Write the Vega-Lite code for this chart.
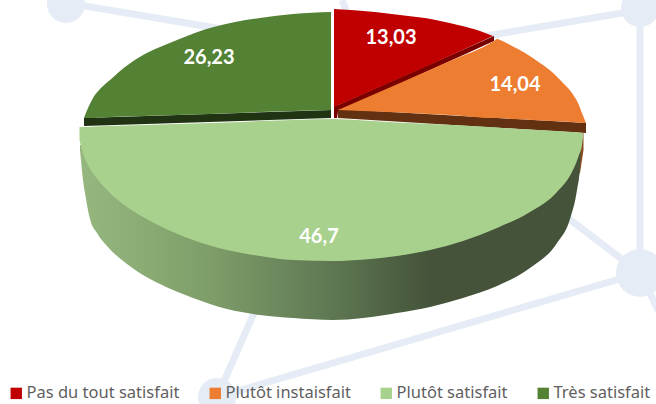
{
"$schema":"https://vega.github.io/schema/vega-lite/v6.json",
"width":656,"height":404,"padding":0,"autosize":{"type":"none"},"background":"white",
"config":{"view":{"stroke":null}},
"datasets":{
"links":[{"x":67,"y":3,"x2":240,"y2":32},{"x":640,"y":10,"x2":480,"y2":37},{"x":640,"y":10,"x2":640,"y2":273},{"x":640,"y":273,"x2":560,"y2":212},{"x":640,"y":273,"x2":217,"y2":397},{"x":217,"y":397,"x2":262,"y2":295},{"x":640,"y":273,"x2":662,"y2":318},{"x":342,"y":0,"x2":350,"y2":20}],
"nodes":[{"x":66,"y":4},{"x":640,"y":8},{"x":217,"y":397}],
"hub":[{"x":640,"y":273}],
"edge":[{"x":577,"y":133,"y2":175},{"x":580,"y":133,"y2":173},{"x":583.5,"y":133,"y2":150}],
"side":[{"x":80,"y":145,"y2":150},{"x":83,"y":145,"y2":180},{"x":85,"y":145,"y2":193},{"x":90,"y":145,"y2":219},{"x":97,"y":145,"y2":233},{"x":107,"y":145,"y2":246},{"x":127,"y":145,"y2":264},{"x":143,"y":145,"y2":275},{"x":160,"y":145,"y2":284},{"x":193,"y":145,"y2":298},{"x":227,"y":145,"y2":309},{"x":260,"y":145,"y2":315},{"x":293,"y":145,"y2":318},{"x":333,"y":145,"y2":320},{"x":363,"y":145,"y2":318},{"x":397,"y":145,"y2":313},{"x":430,"y":145,"y2":307},{"x":463,"y":145,"y2":298},{"x":497,"y":145,"y2":286},{"x":530,"y":145,"y2":268},{"x":557,"y":145,"y2":243},{"x":570,"y":145,"y2":219},{"x":577,"y":145,"y2":190},{"x":580,"y":145,"y2":167},{"x":581,"y":145,"y2":150}],
"bands":[
{"s":"r","x":334,"y":105,"y2":118},{"s":"r","x":337,"y":105,"y2":118},{"s":"r","x":338,"y":105,"y2":112},{"s":"r","x":494,"y":36,"y2":41},
{"s":"o","x":338,"y":109,"y2":118},{"s":"o","x":586,"y":123,"y2":133},
{"s":"d","x":84,"y":118,"y2":126},{"s":"d","x":331,"y":110,"y2":118}],
"faces":[
{"s":"Pas du tout satisfait","x":334,"y":9,"y2":107},{"s":"Pas du tout satisfait","x":375,"y":12,"y2":89},{"s":"Pas du tout satisfait","x":400,"y":15,"y2":78},{"s":"Pas du tout satisfait","x":425,"y":18,"y2":67},{"s":"Pas du tout satisfait","x":458,"y":25,"y2":52},{"s":"Pas du tout satisfait","x":480,"y":31,"y2":42},{"s":"Pas du tout satisfait","x":493,"y":36,"y2":36},
{"s":"Plutôt instaisfait","x":338,"y":110,"y2":110},{"s":"Plutôt instaisfait","x":400,"y":83,"y2":112.5},{"s":"Plutôt instaisfait","x":450,"y":61,"y2":115},{"s":"Plutôt instaisfait","x":494,"y":41,"y2":118},{"s":"Plutôt instaisfait","x":497,"y":39,"y2":118},{"s":"Plutôt instaisfait","x":500,"y":40,"y2":118},{"s":"Plutôt instaisfait","x":512,"y":46,"y2":119},{"s":"Plutôt instaisfait","x":525,"y":53,"y2":119.5},{"s":"Plutôt instaisfait","x":540,"y":63,"y2":120.5},{"s":"Plutôt instaisfait","x":552,"y":72,"y2":121},{"s":"Plutôt instaisfait","x":563,"y":83,"y2":121.5},{"s":"Plutôt instaisfait","x":572,"y":93,"y2":122},{"s":"Plutôt instaisfait","x":578,"y":103,"y2":122.4},{"s":"Plutôt instaisfait","x":582,"y":113,"y2":122.7},{"s":"Plutôt instaisfait","x":586,"y":123,"y2":123},
{"s":"Plutôt satisfait","x":79.5,"y":127,"y2":140},{"s":"Plutôt satisfait","x":83,"y":127,"y2":153},{"s":"Plutôt satisfait","x":87,"y":127,"y2":163},{"s":"Plutôt satisfait","x":95,"y":126.5,"y2":176},{"s":"Plutôt satisfait","x":107,"y":126,"y2":190},{"s":"Plutôt satisfait","x":127,"y":125.5,"y2":207},{"s":"Plutôt satisfait","x":143,"y":125,"y2":217},{"s":"Plutôt satisfait","x":160,"y":124.5,"y2":226},{"s":"Plutôt satisfait","x":193,"y":123.5,"y2":240},{"s":"Plutôt satisfait","x":227,"y":122.5,"y2":250},{"s":"Plutôt satisfait","x":260,"y":121,"y2":256},{"s":"Plutôt satisfait","x":293,"y":120,"y2":260},{"s":"Plutôt satisfait","x":333,"y":119,"y2":261},{"s":"Plutôt satisfait","x":365,"y":120.5,"y2":259.5},{"s":"Plutôt satisfait","x":397,"y":122.5,"y2":256},{"s":"Plutôt satisfait","x":430,"y":124,"y2":250},{"s":"Plutôt satisfait","x":463,"y":125.5,"y2":241},{"s":"Plutôt satisfait","x":497,"y":127.5,"y2":228},{"s":"Plutôt satisfait","x":530,"y":129.5,"y2":212},{"s":"Plutôt satisfait","x":557,"y":131,"y2":192},{"s":"Plutôt satisfait","x":573,"y":132,"y2":170},{"s":"Plutôt satisfait","x":579,"y":132.5,"y2":155},{"s":"Plutôt satisfait","x":582,"y":133,"y2":145},{"s":"Plutôt satisfait","x":583,"y":133,"y2":137},
{"s":"Très satisfait","x":84,"y":118,"y2":118},{"s":"Très satisfait","x":88,"y":108,"y2":118},{"s":"Très satisfait","x":93,"y":98,"y2":118},{"s":"Très satisfait","x":100,"y":89,"y2":117.5},{"s":"Très satisfait","x":110,"y":80,"y2":117},{"s":"Très satisfait","x":125,"y":67,"y2":116.5},{"s":"Très satisfait","x":143,"y":55,"y2":116},{"s":"Très satisfait","x":160,"y":47,"y2":115.5},{"s":"Très satisfait","x":177,"y":40,"y2":115},{"s":"Très satisfait","x":210,"y":28,"y2":114},{"s":"Très satisfait","x":235,"y":22,"y2":113},{"s":"Très satisfait","x":260,"y":18,"y2":112},{"s":"Très satisfait","x":293,"y":14,"y2":111},{"s":"Très satisfait","x":331,"y":12,"y2":110}],
"labels":[{"x":391,"y":38,"t":"13,03"},{"x":515,"y":85,"t":"14,04"},{"x":209,"y":58,"t":"26,23"},{"x":319,"y":237,"t":"46,7"}]
},
"resolve":{"scale":{"color":"independent"}},
"layer":[
{"data":{"name":"links"},"mark":{"type":"rule","color":"#e6ecf5","strokeWidth":7},
 "encoding":{"x":{"field":"x","type":"quantitative","scale":{"domain":[0,656]},"axis":null},"y":{"field":"y","type":"quantitative","scale":{"domain":[404,0]},"axis":null},"x2":{"field":"x2"},"y2":{"field":"y2"}}},
{"data":{"name":"nodes"},"mark":{"type":"point","shape":"circle","filled":true,"opacity":1,"color":"#e6ecf5","size":1450},
 "encoding":{"x":{"field":"x","type":"quantitative","scale":{"domain":[0,656]},"axis":null},"y":{"field":"y","type":"quantitative","scale":{"domain":[404,0]},"axis":null}}},
{"data":{"name":"hub"},"mark":{"type":"point","shape":"circle","filled":true,"opacity":1,"color":"#e6ecf5","size":2290},
 "encoding":{"x":{"field":"x","type":"quantitative","scale":{"domain":[0,656]},"axis":null},"y":{"field":"y","type":"quantitative","scale":{"domain":[404,0]},"axis":null}}},
{"data":{"name":"edge"},"mark":{"type":"area","orient":"vertical","color":"#8a4a1e"},
 "encoding":{"x":{"field":"x","type":"quantitative","scale":{"domain":[0,656]},"axis":null},"y":{"field":"y","type":"quantitative","scale":{"domain":[404,0]},"axis":null},"y2":{"field":"y2"}}},
{"data":{"name":"side"},"mark":{"type":"area","orient":"vertical","interpolate":"monotone","color":{"gradient":"linear","x1":0,"x2":1,"y1":0,"y2":0,"stops":[{"offset":0,"color":"#96b87f"},{"offset":0.25,"color":"#7f9f6a"},{"offset":0.5,"color":"#5f7853"},{"offset":0.7,"color":"#445339"},{"offset":1,"color":"#445339"}]}},
 "encoding":{"x":{"field":"x","type":"quantitative","scale":{"domain":[0,656]},"axis":null},"y":{"field":"y","type":"quantitative","scale":{"domain":[404,0]},"axis":null},"y2":{"field":"y2"}}},
{"data":{"name":"bands"},"mark":{"type":"area","orient":"vertical"},
 "encoding":{"x":{"field":"x","type":"quantitative","scale":{"domain":[0,656]},"axis":null},"y":{"field":"y","type":"quantitative","scale":{"domain":[404,0]},"axis":null},"y2":{"field":"y2"},
 "color":{"field":"s","type":"nominal","scale":{"domain":["r","o","d"],"range":["#7a0000","#623112","#203313"]},"legend":null}}},
{"data":{"name":"faces"},"mark":{"type":"area","orient":"vertical","interpolate":"monotone"},
 "encoding":{"x":{"field":"x","type":"quantitative","scale":{"domain":[0,656]},"axis":null},"y":{"field":"y","type":"quantitative","scale":{"domain":[404,0]},"axis":null},"y2":{"field":"y2"},
 "color":{"field":"s","type":"nominal","scale":{"domain":["Pas du tout satisfait","Plutôt instaisfait","Plutôt satisfait","Très satisfait"],"range":["#c00000","#ed7d31","#a9d18e","#548235"]},
 "legend":{"orient":"none","legendX":8,"legendY":385,"direction":"horizontal","columns":4,"title":null,"symbolType":"square","symbolSize":130,"symbolStrokeWidth":0,"labelFont":"Noto Sans","labelFontSize":16.5,"labelColor":"#5f5f5f","columnPadding":27,"labelOffset":2,"labelLimit":300}}}},
{"data":{"name":"labels"},"mark":{"type":"text","font":"Lato","fontWeight":"bold","fontSize":20,"color":"white","align":"center","baseline":"middle"},
 "encoding":{"x":{"field":"x","type":"quantitative","scale":{"domain":[0,656]},"axis":null},"y":{"field":"y","type":"quantitative","scale":{"domain":[404,0]},"axis":null},"text":{"field":"t","type":"nominal"}}}
]
}
